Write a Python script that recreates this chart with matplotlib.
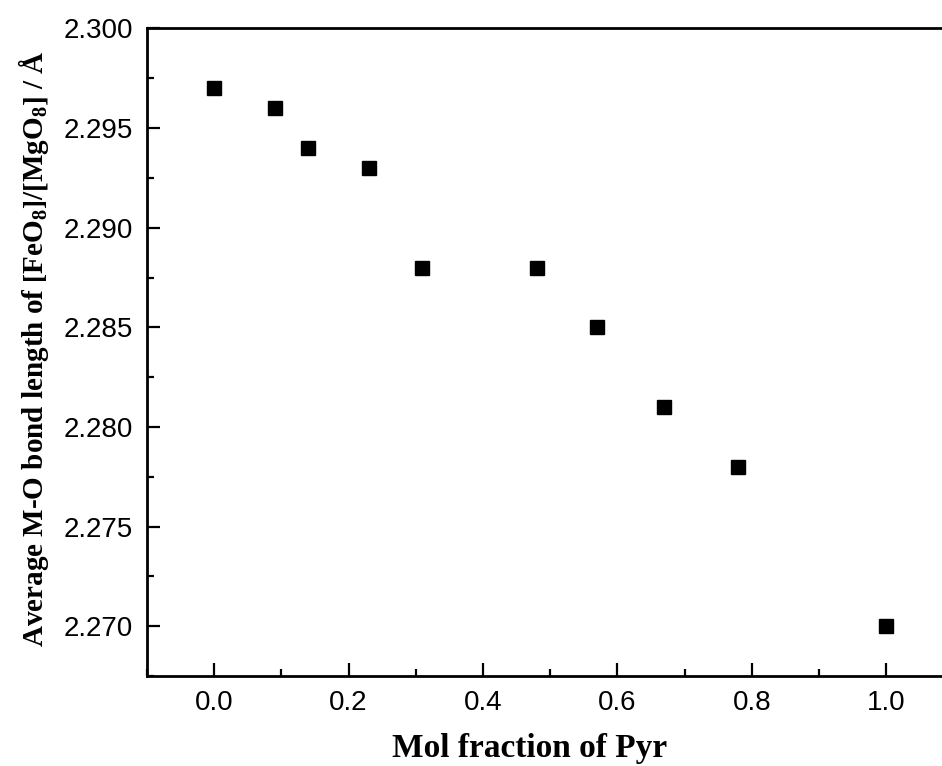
import matplotlib
matplotlib.use("Agg")
import matplotlib.pyplot as plt
from matplotlib.ticker import MultipleLocator, FormatStrFormatter

mol_fraction = [0.0, 0.09, 0.14, 0.23, 0.31, 0.48, 0.57, 0.67, 0.78, 1.0]
bond_length = [2.297, 2.296, 2.294, 2.293, 2.288, 2.288, 2.285, 2.281, 2.278, 2.270]

plt.rcParams['font.family'] = ['Liberation Sans', 'DejaVu Sans']
plt.rcParams['mathtext.fontset'] = 'custom'
plt.rcParams['mathtext.rm'] = 'Liberation Serif:bold'
plt.rcParams['mathtext.bf'] = 'Liberation Serif:bold'
plt.rcParams['mathtext.it'] = 'Liberation Serif:bold'

fig = plt.figure(figsize=(9.42, 7.66), dpi=100)
ax = fig.add_axes([0.156, 0.1175, 0.856, 0.8453])

ax.plot(mol_fraction, bond_length, linestyle='none', marker='s',
        markersize=10, color='black')

ax.set_xlim(-0.1, 1.1)
ax.set_ylim(2.2675, 2.300)
ax.xaxis.set_major_locator(MultipleLocator(0.2))
ax.xaxis.set_minor_locator(MultipleLocator(0.1))
ax.yaxis.set_major_locator(MultipleLocator(0.005))
ax.yaxis.set_minor_locator(MultipleLocator(0.0025))
ax.xaxis.set_major_formatter(FormatStrFormatter('%.1f'))
ax.yaxis.set_major_formatter(FormatStrFormatter('%.3f'))

ax.tick_params(which='both', direction='in', width=1.6, labelsize=20,
               top=False, right=False)
ax.tick_params(which='major', length=9.5, pad=10)
ax.tick_params(which='minor', length=5)
for s in ax.spines.values():
    s.set_linewidth(2.0)

ax.set_xlabel('Mol fraction of Pyr', family='Liberation Serif',
              fontweight='bold', fontsize=24)
ax.xaxis.set_label_coords(0.474, -0.088)
ax.set_ylabel(r'Average M-O bond length of $\left[\mathrm{FeO}_{\mathrm{8}}\right]/\left[\mathrm{MgO}_{\mathrm{8}}\right]$ / Å',
              family='Liberation Serif', fontweight='bold', fontsize=21)
ax.yaxis.set_label_coords(-0.119, 0.505)

fig.savefig('out.png', dpi=100)
